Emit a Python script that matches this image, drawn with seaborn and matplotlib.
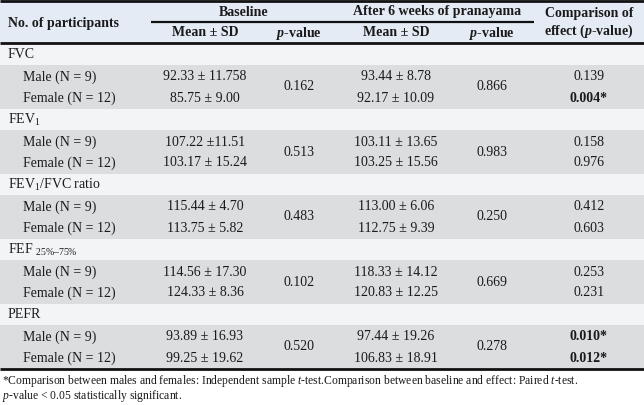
import matplotlib
matplotlib.use("Agg")
import matplotlib.pyplot as plt
import seaborn as sns

# ---------------- data ----------------
params = ["FVC", r"FEV$_\mathregular{1}$", r"FEV$_\mathregular{1}$/FVC ratio",
          r"FEF $_\mathregular{25\%–75\%}$", "PEFR"]
groups = ["Male (N = 9)", "Female (N = 12)"]

male_base = ["92.33 ± 11.758", "107.22 ±11.51", "115.44 ± 4.70", "114.56 ± 17.30", "93.89 ± 16.93"]
female_base = ["85.75 ± 9.00", "103.17 ± 15.24", "113.75 ± 5.82", "124.33 ± 8.36", "99.25 ± 19.62"]
p_base = ["0.162", "0.513", "0.483", "0.102", "0.520"]

male_after = ["93.44 ± 8.78", "103.11 ± 13.65", "113.00 ± 6.06", "118.33 ± 14.12", "97.44 ± 19.26"]
female_after = ["92.17 ± 10.09", "103.25 ± 15.56", "112.75 ± 9.39", "120.83 ± 12.25", "106.83 ± 18.91"]
p_after = ["0.866", "0.983", "0.250", "0.669", "0.278"]

cmp_male = ["0.139", "0.158", "0.412", "0.253", "0.010*"]
cmp_female = ["0.004*", "0.976", "0.603", "0.231", "0.012*"]

footnote = [r"*Comparison between males and females: Independent sample $\mathit{t}$-test."
            r"Comparison between baseline and effect: Paired $\mathit{t}$-test.",
            r"$\mathit{p}$-value < 0.05 statistically significant."]

# ---------------- style ----------------
sns.set_theme(style="white")
plt.rcParams["font.family"] = ["Liberation Serif", "DejaVu Serif"]
plt.rcParams["mathtext.fontset"] = "custom"
plt.rcParams["mathtext.rm"] = "Liberation Serif"
plt.rcParams["mathtext.it"] = "Liberation Serif:italic"
plt.rcParams["mathtext.bf"] = "Liberation Serif:bold"
plt.rcParams["mathtext.bfit"] = "Liberation Serif:bold:italic"

HEAD_BG = "#e4ebf4"
SEC_BG = "#f3f4f6"
ROW_BG = "#dcdddf"
TXT = "#1a1a1a"
FS = 10

fig = plt.figure(figsize=(6.44, 4.05), dpi=100)
ax = fig.add_axes([0, 0, 1, 1])
ax.set_xlim(0, 644)
ax.set_ylim(405, 0)
ax.axis("off")

# column centres
x_label, x_sub = 8, 23
x_bm, x_bp = 205, 299
x_am, x_ap = 396, 492
x_cmp = 589

# header
ax.axhspan(0, 43, color=HEAD_BG, lw=0)
ax.text(x_label, 23, "No. of participants", ha="left", va="center", fontsize=FS, weight="bold", color=TXT)
ax.text(244, 12, "Baseline", ha="center", va="center", fontsize=FS, weight="bold", color=TXT)
ax.text(437, 12, "After 6 weeks of pranayama", ha="center", va="center", fontsize=FS, weight="bold", color=TXT)
ax.text(x_bm, 33, "Mean ± SD", ha="center", va="center", fontsize=FS, weight="bold", color=TXT)
ax.text(x_am, 33, "Mean ± SD", ha="center", va="center", fontsize=FS, weight="bold", color=TXT)
ax.text(x_bp, 33, r"$\mathbfit{p}$-value", ha="center", va="center", fontsize=FS, weight="bold", color=TXT)
ax.text(x_ap, 33, r"$\mathbfit{p}$-value", ha="center", va="center", fontsize=FS, weight="bold", color=TXT)
ax.text(x_cmp, 14, "Comparison of", ha="center", va="center", fontsize=FS, weight="bold", color=TXT)
ax.text(x_cmp, 31, r"effect ($\mathbfit{p}$-value)", ha="center", va="center", fontsize=FS, weight="bold", color=TXT)

ax.plot([0, 644], [1, 1], color="#111111", lw=2.0, solid_capstyle="butt")
ax.plot([151, 534], [22, 22], color="#111111", lw=1.6, solid_capstyle="butt")
ax.plot([0, 644], [43, 43], color="#111111", lw=2.0, solid_capstyle="butt")

# body
sec_h, data_h = 21, 44
y0 = 44
for i, name in enumerate(params):
    top = y0 + i * (sec_h + data_h)
    ax.axhspan(top, top + sec_h, color=SEC_BG, lw=0)
    ax.axhspan(top + sec_h, top + sec_h + data_h, color=ROW_BG, lw=0)
    ax.text(x_label, top + sec_h / 2, name, ha="left", va="center", fontsize=FS, color=TXT)

    ym = top + sec_h + 12
    yf = top + sec_h + 33
    yc = top + sec_h + 22
    ax.text(x_sub, ym, groups[0], ha="left", va="center", fontsize=FS, color=TXT)
    ax.text(x_sub, yf, groups[1], ha="left", va="center", fontsize=FS, color=TXT)
    ax.text(x_bm, ym, male_base[i], ha="center", va="center", fontsize=FS, color=TXT)
    ax.text(x_bm, yf, female_base[i], ha="center", va="center", fontsize=FS, color=TXT)
    ax.text(x_bp, yc, p_base[i], ha="center", va="center", fontsize=FS, color=TXT)
    ax.text(x_am, ym, male_after[i], ha="center", va="center", fontsize=FS, color=TXT)
    ax.text(x_am, yf, female_after[i], ha="center", va="center", fontsize=FS, color=TXT)
    ax.text(x_ap, yc, p_after[i], ha="center", va="center", fontsize=FS, color=TXT)
    for val, yy in ((cmp_male[i], ym), (cmp_female[i], yf)):
        ax.text(x_cmp, yy, val, ha="center", va="center", fontsize=FS, color=TXT,
                weight="bold" if val.endswith("*") else "normal")

bottom = y0 + len(params) * (sec_h + data_h)
ax.plot([0, 644], [bottom, bottom], color="#111111", lw=2.0, solid_capstyle="butt")

# footnote
ax.text(2, bottom + 12, footnote[0], ha="left", va="center", fontsize=8.4, color=TXT)
ax.text(2, bottom + 27, footnote[1], ha="left", va="center", fontsize=8.4, color=TXT)

fig.savefig("out.png", dpi=100)
